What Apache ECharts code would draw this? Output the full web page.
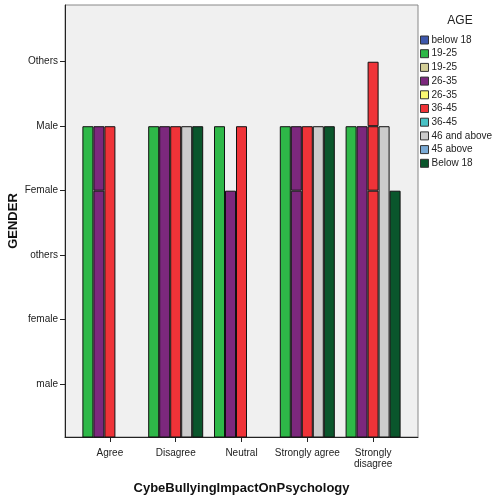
<!DOCTYPE html>
<html>
<head>
<meta charset="utf-8">
<script src="https://cdn.jsdelivr.net/npm/echarts@6/dist/echarts.min.js"></script>
<style>
html,body{margin:0;padding:0;background:#fff;}
#chart{width:494px;height:497px;}
</style>
</head>
<body>
<div id="chart"></div>
<script>
// ---- data ----
const categories = ['Agree', 'Disagree', 'Neutral', 'Strongly agree', 'Strongly\ndisagree'];
const genderLevels = ['male', 'female', 'others', 'Female', 'Male', 'Others'];
const legendNames = ['below 18', '19-25', '19-25 ', '26-35', '26-35 ', '36-45', '36-45 ', '46 and above', '45 above', 'Below 18'];
const legendColors = ['#3E58AC', '#2EB848', '#D3CE97', '#7C287D', '#FBF873', '#EF3338', '#48C2C5', '#CCCCCC', '#7AAAD5', '#0A562C'];
// gender values recorded for each age group in each category (overlapping bars)
const age19_25 = [['Male'], ['Male'], ['Male'], ['Male'], ['Male']];
const age26_35 = [['Female', 'Male'], ['Male'], ['Female'], ['Female', 'Male'], ['Male']];
const age36_45 = [['Male'], ['Male'], ['Male'], ['Male'], ['Female', 'Male', 'Others']];
const age46above = [[], ['Male'], [], ['Male'], ['Male']];
const ageBelow18 = [[], ['Male'], [], ['Male'], ['Female']];

const presentGroups = [
  {name: '19-25', values: age19_25},
  {name: '26-35', values: age26_35},
  {name: '36-45', values: age36_45},
  {name: '46 and above', values: age46above},
  {name: 'Below 18', values: ageBelow18}
];

function levelValue(g) { return genderLevels.indexOf(g) + 1; }
function colorOf(name) { return legendColors[legendNames.indexOf(name)]; }

const series = [];
presentGroups.forEach(function (grp) {
  let maxLayers = 0;
  grp.values.forEach(function (v) { maxLayers = Math.max(maxLayers, v.length); });
  for (let k = 0; k < maxLayers; k++) {
    const data = grp.values.map(function (v) {
      if (k >= v.length) return '-';
      const lv = v.map(levelValue).sort(function (a, b) { return a - b; });
      return k === 0 ? lv[0] : lv[k] - lv[k - 1];
    });
    series.push({
      type: 'bar', name: grp.name, stack: grp.name,
      xAxisIndex: 1, yAxisIndex: 1,
      barWidth: 11, barGap: '0%', clip: true,
      itemStyle: {color: colorOf(grp.name), borderColor: '#111', borderWidth: 1},
      emphasis: {disabled: true},
      data: data
    });
  }
});
// groups shown in legend with no data
legendNames.forEach(function (n) {
  if (!presentGroups.some(function (g) { return g.name === n; })) {
    series.push({type: 'bar', name: n, xAxisIndex: 0, yAxisIndex: 0,
      itemStyle: {color: colorOf(n), borderColor: '#333', borderWidth: 1}, data: []});
  }
});

const yMin = 0.18, yMax = 6.88;
const tickVals = [1, 2, 3, 4, 5, 6];

const chart = echarts.init(document.getElementById('chart'), null, {renderer: 'canvas'});
chart.setOption({
  animation: false,
  backgroundColor: '#fff',
  textStyle: {fontFamily: 'Liberation Sans, Arial, sans-serif'},
  title: {
    text: 'AGE', left: 455, top: 10, textAlign: 'center',
    textStyle: {fontSize: 12, fontWeight: 'normal', color: '#222', fontFamily: 'Liberation Sans, Arial, sans-serif'}
  },
  legend: {
    orient: 'vertical', left: 415, top: 29,
    itemWidth: 8, itemHeight: 8, itemGap: 1.7,
    icon: 'rect',
    selectedMode: false,
    data: legendNames,
    itemStyle: {borderColor: '#333', borderWidth: 1},
    textStyle: {fontSize: 10, lineHeight: 12, color: '#222', padding: [0, 0, 0, -2]}
  },
  grid: [
    {left: 65, right: 76, top: 5, bottom: 60, show: true, backgroundColor: '#F0F0F0', borderColor: '#888', borderWidth: 1, outerBoundsMode: 'none', containLabel: false},
    {left: 77, right: 88, top: 5, bottom: 60, outerBoundsMode: 'none', containLabel: false}
  ],
  xAxis: [
    {type: 'category', gridIndex: 0, data: categories,
      axisLine: {show: true, lineStyle: {color: '#222', width: 1}},
      axisTick: {show: false}, axisLabel: {show: false}, splitLine: {show: false}},
    {type: 'category', gridIndex: 1, data: categories,
      name: 'CybeBullyingImpactOnPsychology', nameLocation: 'middle', nameGap: 45, nameMoveOverlap: false,
      nameTextStyle: {fontSize: 13, fontWeight: 'bold', color: '#111'},
      axisLine: {show: false},
      axisTick: {show: true, alignWithLabel: true, length: 5, lineStyle: {color: '#222'}},
      axisLabel: {fontSize: 10, color: '#222', margin: 11, lineHeight: 11, interval: 0},
      splitLine: {show: false}}
  ],
  yAxis: [
    {type: 'value', gridIndex: 0, min: yMin, max: yMax,
      name: 'GENDER', nameLocation: 'middle', nameGap: 45, nameRotate: 90, nameMoveOverlap: false,
      nameTextStyle: {fontSize: 13, fontWeight: 'bold', color: '#111'},
      axisLine: {show: true, lineStyle: {color: '#222', width: 1}},
      axisTick: {show: true, length: 5, customValues: tickVals, lineStyle: {color: '#222'}},
      axisLabel: {show: true, customValues: tickVals, fontSize: 10, color: '#222', margin: 7,
        formatter: function (v) { return genderLevels[Math.round(v) - 1] || ''; }},
      splitLine: {show: false}},
    {type: 'value', gridIndex: 1, min: yMin, max: yMax, show: false, splitLine: {show: false}}
  ],
  series: series
});
</script>
</body>
</html>
